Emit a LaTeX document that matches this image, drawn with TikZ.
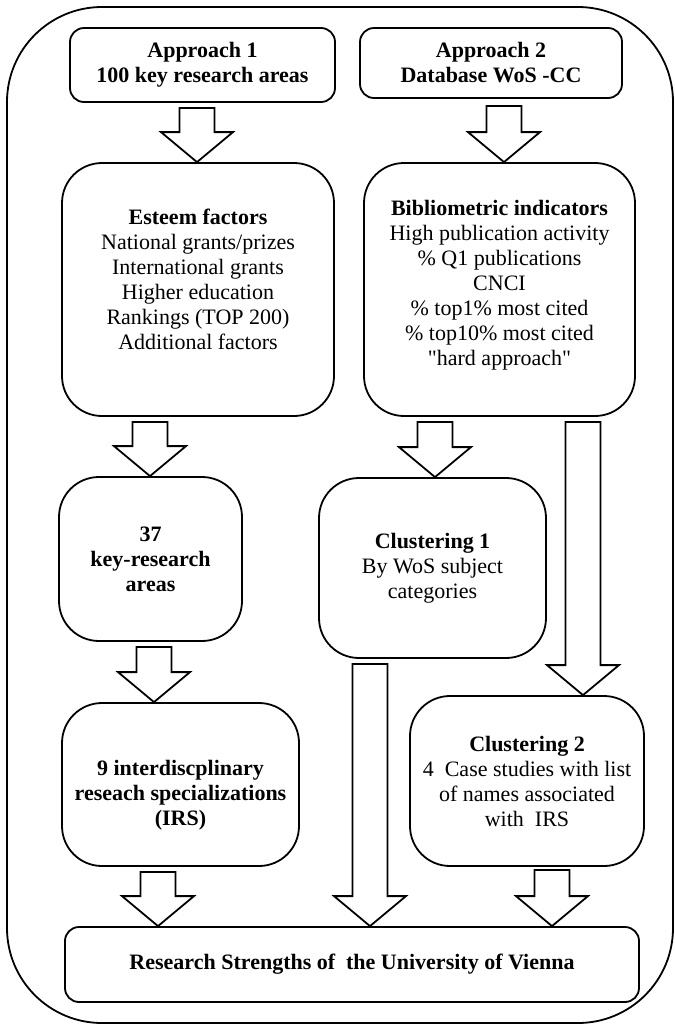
\documentclass[tikz,border=0pt]{standalone}
\usepackage{fontspec}
\setmainfont{Liberation Serif}[Ligatures=TeXOff]
\usetikzlibrary{calc}

\tikzset{
  box/.style={draw, line width=1.8pt, rounded corners=40pt, align=center, inner sep=0pt,
    font=\fontsize{22}{25}\selectfont},
  flatbox/.style={box, rounded corners=14pt},
  blockarrow/.style={draw, line width=1.8pt, line join=miter},
}
% hollow block arrow: x and top from #1, tip height from #2
\newcommand{\fatarrow}[2]{%
  \draw[blockarrow] let \p1=(#1), \p2=(#2) in
    (\x1-17.5pt,\y1) -- (\x1+17.5pt,\y1) -- (\x1+17.5pt,\y2+30pt) -- (\x1+36pt,\y2+30pt)
    -- (\x1,\y2) -- (\x1-36pt,\y2+30pt) -- (\x1-17.5pt,\y2+30pt) -- cycle;
}

\begin{document}
\begin{tikzpicture}[x=1pt,y=-1pt]
        \useasboundingbox (0,0) rectangle (675,1026);
        \draw[line width=1.8pt, rounded corners=95pt] (7,7) rectangle (673,1023);
        % approach 1 column
        \draw (202.5,65) node[flatbox, minimum width=265pt, minimum height=74pt](appr1) {\textbf{Approach 1}\\ \textbf{100 key research areas}};
        \draw (198,289.5) node[box, minimum width=272pt, minimum height=253pt](esteem) {\textbf{Esteem factors}\\ National grants/prizes\\ International grants\\ Higher education\\ Rankings (TOP 200)\\ Additional factors\rule[-20pt]{0pt}{20pt}};
        \draw (150.5,559) node[box, minimum width=183pt, minimum height=164pt](area37) {\textbf{37}\\ \textbf{key-research}\\ \textbf{areas}};
        \draw (180.5,784.5) node[box, minimum width=237pt, minimum height=163pt](irs) {\rule{0pt}{36pt}\textbf{9 interdiscplinary}\\ \textbf{reseach specializations}\\ \textbf{(IRS)}};
        % approach 2 column
        \draw (491,63) node[flatbox, minimum width=262pt, minimum height=70pt](appr2) {\textbf{Approach 2}\\ \textbf{Database WoS -CC}};
        \draw (499.5,289.5) node[box, minimum width=271pt, minimum height=253pt](biblio) {\textbf{Bibliometric indicators}\\ High publication activity\\ \% Q1 publications\\ CNCI\\ \% top1\% most cited\\ \% top10\% most cited\\ "hard approach"\rule[-14pt]{0pt}{14pt}};
        \draw (432.5,568) node[box, minimum width=227pt, minimum height=180pt](clust1) {\textbf{Clustering 1}\\ By WoS subject\\ categories};
        \draw (527,781) node[box, minimum width=234pt, minimum height=170pt](clust2) {\textbf{Clustering 2}\\ 4\ \ Case studies with list\\ of names associated\\ with\ \ IRS};
        % result
        \draw (352,964.5) node[flatbox, minimum width=574pt, minimum height=75pt](strengths) {\textbf{Research Strengths of\ \ the University of Vienna}};
        % arrows
        \fatarrow{[xshift=-5.5pt,yshift=-5pt]appr1.south}{esteem.north}
        \fatarrow{[xshift=13pt,yshift=-7pt]appr2.south}{biblio.north}
        \fatarrow{[xshift=-48pt,yshift=-5pt]esteem.south}{area37.north}
        \fatarrow{[xshift=-64.5pt,yshift=-5pt]biblio.south}{clust1.north}
        \fatarrow{[xshift=83.5pt,yshift=-5pt]biblio.south}{clust2.north}
        \fatarrow{[xshift=3.5pt,yshift=-5pt]area37.south}{irs.north}
        \fatarrow{[xshift=-62.5pt,yshift=-5pt]clust1.south}{strengths.north}
        \fatarrow{[xshift=-22.5pt,yshift=-5pt]irs.south}{strengths.north}
        \fatarrow{[xshift=25pt,yshift=-3pt]clust2.south}{strengths.north}
    \end{tikzpicture}
\end{document}
